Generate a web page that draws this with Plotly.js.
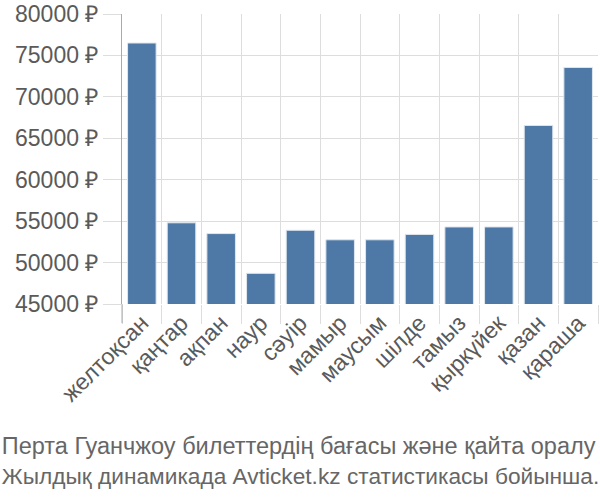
<!DOCTYPE html>
<html>
<head>
<meta charset="utf-8">
<script src="https://cdn.plot.ly/plotly-3.0.1.min.js"></script>
<style>html,body{margin:0;padding:0;background:#fff;}#chart{width:600px;height:500px;}</style>
</head>
<body>
<div id="chart"></div>
<script>
const months = ["желтоқсан","қаңтар","ақпан","наур","сәуір","мамыр","маусым","шілде","тамыз","қыркүйек","қазан","қараша"];
const prices = [76500, 54800, 53500, 48700, 53900, 52750, 52750, 53400, 54300, 54300, 66550, 73550];
const yTicks = [45000, 50000, 55000, 60000, 65000, 70000, 75000, 80000];
const titleLines = ["Перта Гуанчжоу билеттердің бағасы және қайта оралу", "Жылдық динамикада Avticket.kz статистикасы бойынша."];

const trace = {
  type: "bar",
  x: months,
  y: prices,
  marker: {color: "#4e79a7", line: {color: "#dfe6ee", width: 1}},
  hoverinfo: "x+y"
};

const layout = {
  width: 600, height: 500,
  margin: {l: 122, r: 2, t: 14, b: 196},
  paper_bgcolor: "#ffffff", plot_bgcolor: "#ffffff",
  font: {family: "Liberation Sans, Arial, sans-serif", size: 22, color: "#5a5a5a"},
  bargap: 0.28,
  showlegend: false,
  title: {
    text: titleLines[0] + "<br><span style=\"font-size:22.7px\">" + titleLines[1] + "</span>",
    x: 0.003, xanchor: "left", xref: "container",
    y: 0.093, yanchor: "middle", yref: "container",
    font: {family: "Liberation Sans, Arial, sans-serif", size: 23.5, color: "#666666"}
  },
  xaxis: {
    type: "category",
    tickangle: -45,
    tickson: "boundaries",
    ticks: "outside", ticklen: 19, tickcolor: "#dddddd", tickwidth: 1,
    showgrid: true, gridcolor: "#dddddd", gridwidth: 1,
    showline: false, zeroline: false,
    tickfont: {size: 23, color: "#5a5a5a"}
  },
  yaxis: {
    range: [45000, 80000],
    tickvals: yTicks,
    ticktext: yTicks.map(v => v + " ₽"),
    ticks: "outside", ticklen: 18, tickcolor: "#dddddd", tickwidth: 1,
    showgrid: true, gridcolor: "#dddddd", gridwidth: 1,
    showline: true, linecolor: "#aaaaaa", linewidth: 1,
    zeroline: false,
    tickfont: {size: 23, color: "#5a5a5a"}
  },
  shapes: [{
    type: "line", xref: "paper", yref: "paper",
    x0: 0, x1: 0, y0: 0, y1: -0.066,
    line: {color: "#aaaaaa", width: 1}
  }]
};

Plotly.newPlot("chart", [trace], layout, {displayModeBar: false, staticPlot: true});
</script>
</body>
</html>
